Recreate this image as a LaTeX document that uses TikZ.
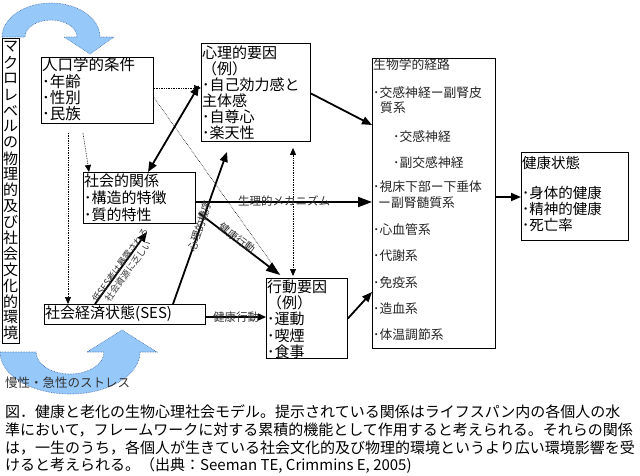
\documentclass[tikz,border=0pt]{standalone}
\usepackage{fontspec}
\setmainfont{Noto Sans CJK JP}
\usetikzlibrary{arrows.meta,calc}
\definecolor{bandblue}{RGB}{150,200,250}
\definecolor{bandedge}{RGB}{60,100,160}
\begin{document}
\begin{tikzpicture}[x=1pt,y=-1pt,
  box/.style={draw,line width=0.9pt,inner sep=0,anchor=north west,rectangle},
  tl/.style={inner sep=0,anchor=west},
  f15/.style={font=\fontsize{15}{16}\selectfont},
  f13/.style={font=\fontsize{12.8}{14}\selectfont,text=black!85},
  thk/.style={line width=1.8pt,-{Triangle[length=10pt,width=8pt]}},
  thkbig/.style={line width=1.8pt,-{Triangle[length=14pt,width=10pt]}},
  thkb/.style={line width=1.8pt,{Triangle[length=10pt,width=8pt]}-{Triangle[length=10pt,width=8pt]}},
  dot/.style={densely dotted,line width=0.7pt,-{Triangle[length=7pt,width=6pt]}},
  dotb/.style={densely dotted,line width=0.7pt,{Triangle[length=7pt,width=6pt]}-{Triangle[length=7pt,width=6pt]}},
  lbl/.style={inner sep=0,text=black!80},
  band/.style={fill=bandblue,draw=bandedge,densely dotted,line width=0.6pt},
]
\fill[white] (0,0) rectangle (640,475);
\useasboundingbox (0,0) rectangle (640,475);

% blue curved arrows
\path[band] (2,37) arc[start angle=180,end angle=360,x radius=49,y radius=34]
  -- (114,37) -- (90,54) -- (64,37) -- (77,37)
  arc[start angle=360,end angle=180,x radius=26,y radius=17] -- cycle;
\path[band] (0,352) arc[start angle=180,end angle=0,x radius=70,y radius=42]
  -- (157,352) -- (122,330) -- (87,352) -- (104,352)
  arc[start angle=0,end angle=180,x radius=34,y radius=22] -- cycle;
\node[lbl,anchor=west,font=\fontsize{12.5}{13}\selectfont] (stress) at (5,383) {慢性・急性のストレス};

% macro environment box
\node[box,minimum width=17pt,minimum height=305pt] (macro) at (2,38) {};
\foreach \c [count=\i] in {マ,ク,ロ,レ,ベ,ル,の,物,理,的,及,び,社,会,文,化,的,環,境}
  \node[inner sep=0,f15] (mc\i) at (10.5,{47+15.9*(\i-1)}) {\c};

% demographic
\node[box,minimum width=112pt,minimum height=66pt] (demo) at (41,57) {};
\foreach \t [count=\i] in {人口学的条件,･年齢,･性別,･民族}
  \node[tl,font=\fontsize{15.5}{16}\selectfont] (demo\i) at (42,{65+16.3*(\i-1)}) {\t};

% psychological
\node[box,minimum width=109pt,minimum height=98pt] (psy) at (201,43) {};
\foreach \t [count=\i] in {心理的要因,（例）,･自己効力感と,主体感,･自尊心,･楽天性}
  \node[tl,f15] (psy\i) at (202,{53+16*(\i-1)}) {\t};

% social relations
\node[box,minimum width=112pt,minimum height=51pt] (soc) at (83,172) {};
\foreach \t [count=\i] in {社会的関係,･構造的特徴,･質的特性}
  \node[tl,f15] (soc\i) at (84,{181+17*(\i-1)}) {\t};

% SES
\node[box,minimum width=161pt,minimum height=20pt] (ses) at (44,304) {};
\node[tl,f15] (sesT) at (45,314) {社会経済状態(SES)};

% behavioral
\node[box,minimum width=81pt,minimum height=80pt] (beh) at (266,278) {};
\foreach \t [count=\i] in {行動要因,（例）,･運動,･喫煙,･食事}
  \node[tl,f15] (beh\i) at (267,{287+16.2*(\i-1)}) {\t};

% biological pathways
\node[box,minimum width=123pt,minimum height=290pt] (bio) at (372,58) {};
\node[tl,f13] (bio1) at (373,65) {生物学的経路};
\node[tl,f13] (bio2) at (373,93) {･交感神経ー副腎皮};
\node[tl,f13] (bio3) at (380,108) {質系};
\node[tl,f13] (bio4) at (393,137) {･交感神経};
\node[tl,f13] (bio5) at (393,163) {･副交感神経};
\node[tl,f13] (bio6) at (373,187) {･視床下部ー下垂体};
\node[tl,f13] (bio7) at (378,203) {ー副腎髄質系};
\node[tl,f13] (bio8) at (373,230) {･心血管系};
\node[tl,f13] (bio9) at (373,256) {･代謝系};
\node[tl,f13] (bio10) at (373,283) {･免疫系};
\node[tl,f13] (bio11) at (373,309) {･造血系};
\node[tl,f13] (bio12) at (373,335) {･体温調節系};

% health status
\node[box,minimum width=107pt,minimum height=88pt] (health) at (521,152) {};
\node[tl,font=\fontsize{14.5}{15}\selectfont] (h1) at (522,163) {健康状態};
\node[tl,font=\fontsize{14.5}{15}\selectfont] (h2) at (522,193) {･身体的健康};
\node[tl,font=\fontsize{14.5}{15}\selectfont] (h3) at (522,209) {･精神的健康};
\node[tl,font=\fontsize{14.5}{15}\selectfont] (h4) at (522,225) {･死亡率};

% dotted connectors
\draw[dot] (demo.east |- 0,88) -- (psy.west |- 0,88);
\draw[dot] ($(demo.south west)+(42,9)$) -- ($(soc.north west)+(6,0)$);
\draw[dot] ($(demo.south west)+(27,9)$) -- (ses.north -| 68,0);
\draw[densely dotted,line width=0.6pt] ($(demo.east)+(0,7)$) -- ($(beh.north west)+(14,-3)$);
\draw[dotb] ($(psy.south west)+(92,6)$) -- ($(beh.north west)+(27,-2)$);

% thick connectors
\draw[thkb] ($(soc.north west)+(65,0)$) -- ($(psy.west)+(-2,-7)$);
\draw[thk] ($(psy.east)+(0,1)$) -- (bio.west |- 0,125);
\draw[thk] ($(ses.north west)+(129,0)$) -- ($(psy.south west)+(26,10)$);
\draw[thk] ($(ses.north west)+(51,0)$) -- ($(soc.south west)+(64,8)$);
\draw[thkbig] (soc.east |- 0,202) -- (bio.west |- 0,202);
\draw[thkbig] ($(soc.east)+(3,15)$) -- ($(beh.north west)+(14,-3)$);
\draw[line width=1.5pt,-{Triangle[length=8pt,width=7pt]}] (ses.east |- 0,317) -- (beh.west |- 0,317);
\draw[thk] (beh.east) -- (bio.west |- 0,292);
\draw[thk] (bio.east |- 0,197) -- (health.west |- 0,197);

% connector labels
\node[lbl,font=\fontsize{11.5}{12}\selectfont] (lphys) at (284,201) {生理的メカニズム};
\node[lbl,font=\fontsize{11.5}{12}\selectfont] (lhb1) at (236,317) {健康行動};
\node[lbl,rotate=-36,font=\fontsize{10.5}{11}\selectfont] (lhb2) at (237,238) {健康行動};
\node[lbl,rotate=71,font=\fontsize{10.5}{11}\selectfont] (lpsy) at (200,226) {心理的機序};
\node[lbl,rotate=54,align=center,font=\fontsize{9}{10}\selectfont] (lses) at (124,268) {低SES者は暴露される\\社会資源に乏しい};

% caption
\node[tl,font=\fontsize{15}{16}\selectfont] (cap1) at (5,412) {図．健康と老化の生物心理社会モデル。提示されている関係はライフスパン内の各個人の水};
\node[tl,font=\fontsize{15}{16}\selectfont] (cap2) at (5,430) {準において，フレームワークに対する累積的機能として作用すると考えられる。それらの関係};
\node[tl,font=\fontsize{15}{16}\selectfont] (cap3) at (5,448) {は，一生のうち，各個人が生きている社会文化的及び物理的環境というより広い環境影響を受};
\node[tl,font=\fontsize{15}{16}\selectfont] (cap4) at (5,465.5) {けると考えられる。（出典：Seeman TE, Crimmins E, 2005)};
\end{tikzpicture}
\end{document}
